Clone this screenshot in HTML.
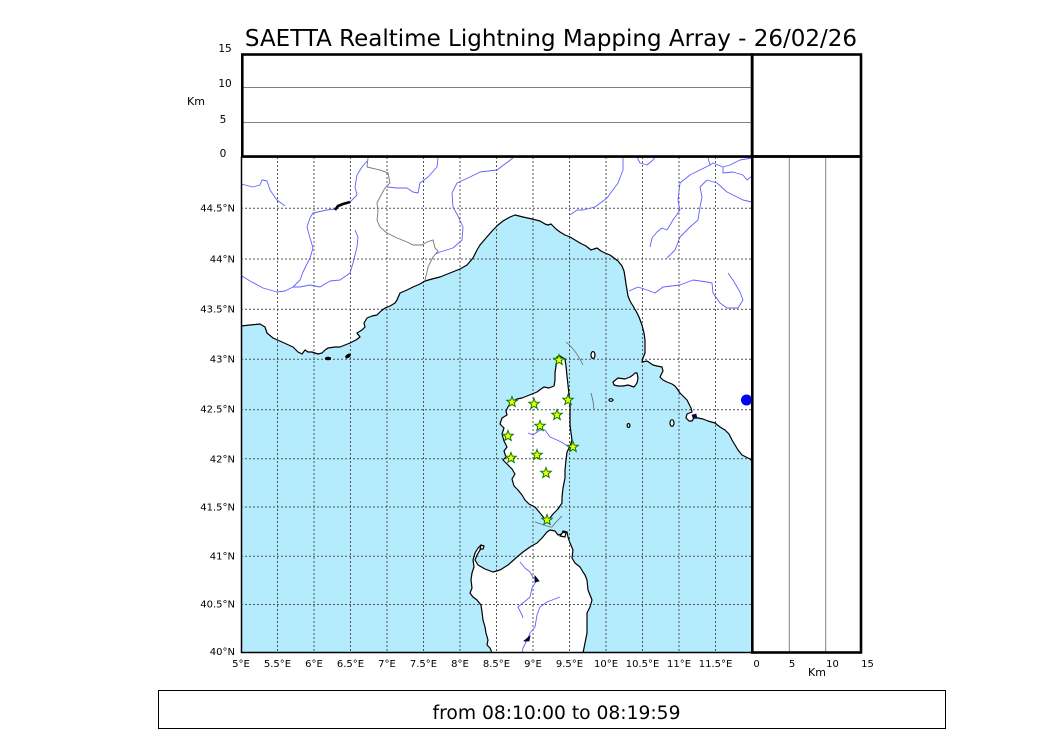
<!DOCTYPE html>
<html><head><meta charset="utf-8"><style>
html,body{margin:0;padding:0;background:#fff;}
svg{display:block;}
text{font-family:"DejaVu Sans","Liberation Sans",sans-serif;fill:#000;}
</style></head><body>
<svg width="1050" height="750" viewBox="0 0 1050 750" xmlns="http://www.w3.org/2000/svg">
<rect x="0" y="0" width="1050" height="750" fill="#fff"/>
<text x="551" y="46" font-size="23" text-anchor="middle">SAETTA Realtime Lightning Mapping Array - 26/02/26</text>

<!-- Map area -->
<rect x="241" y="157" width="511" height="496" fill="#fff"/>
<path d="M241,326 L250,325 L260,324 L265,327 L267,333 L273,338 L282,342 L293,347 L298,352 L302,354 L305,350 L308,352 L312,352 L318,354 L322,353 L325,350 L328,348 L335,347 L340,347 L350,343 L356,340 L360,337 L357,333 L362,330 L365,327 L364,323 L367,318 L372,316 L377,315 L381,311 L385,308 L390,306 L395,303 L397,300 L400,293 L407,290 L413,287 L420,284 L425,281 L432,279 L440,277 L450,273 L460,269 L467,265 L473,258 L477,250 L480,245 L486,238 L493,230 L498,225 L503,221 L510,217 L515,215 L523,217 L532,219 L540,221 L545,224 L548,225 L551,224 L556,229 L560,232 L565,235 L570,237 L575,240 L580,243 L586,246 L591,250 L594,249 L597,248 L601,251 L605,253 L610,255 L614,258 L618,261 L622,266 L624,271 L625,277 L626,284 L627,290 L628,296 L630,301 L633,306 L636,311 L639,317 L642,325 L644,333 L645,340 L645,347 L645,353 L643,358 L642,362 L647,361 L653,365 L657,366 L662,367 L663,371 L660,377 L663,380 L667,382 L672,384 L675,386 L678,390 L680,393 L683,396 L687,400 L689,404 L691,408 L692,412 L687,414 L686,418 L689,421 L692,421 L694,418 L698,418 L703,419 L708,421 L715,423 L720,427 L725,430 L729,434 L732,440 L735,445 L738,450 L742,455 L746,457 L750,459 L752,461 L752,653 L583,653 L585,643 L587,633 L587,620 L587,613 L590,607 L592,600 L590,595 L588,590 L587,580 L585,575 L583,572 L580,567 L575,563 L572,558 L573,550 L570,543 L568,537 L567,532 L563,531 L562,534 L558,535 L555,531 L550,530 L547,532 L542,538 L537,543 L530,547 L523,552 L517,557 L508,565 L500,570 L493,572 L485,569 L478,565 L475,560 L477,555 L480,550 L483,546 L481,545 L478,548 L475,553 L473,560 L474,567 L472,573 L471,580 L472,588 L470,593 L473,597 L477,600 L481,605 L482,612 L483,620 L485,627 L486,633 L488,640 L487,645 L490,648 L492,653 L241,653 Z" fill="#b4ecfe" stroke="none"/>

<!-- islands fill -->
<g fill="#fff" stroke="none">
<path d="M557,357 L560,356 L565,359 L566,366 L567,376 L568,385 L569,395 L570,405 L570,415 L570,425 L571,433 L572,440 L570,446 L567,452 L566,460 L565,470 L565,478 L563,488 L562,497 L562,503 L558,509 L553,514 L550,518 L547,521 L544,518 L540,513 L535,507 L529,504 L525,500 L522,495 L518,490 L514,486 L512,479 L515,474 L512,469 L507,464 L503,460 L506,457 L504,451 L507,447 L504,441 L502,434 L504,428 L500,424 L502,418 L507,415 L506,411 L509,405 L513,401 L517,399 L522,398 L527,396 L532,394 L537,392 L541,389 L544,387 L549,388 L554,386 L555,380 L555,373 L556,366 L557,360 Z"/>
<path d="M613,382 L618,378 L625,379 L630,377 L633,375 L635,373 L637,373 L638,378 L637,383 L634,387 L628,385 L623,386 L618,386 L614,385 Z"/>
</g>

<!-- grid -->
<g stroke="#555" stroke-width="1" stroke-dasharray="2,2" fill="none">
<path d="M277.5,157V653 M314,157V653 M350.5,157V653 M387,157V653 M423.5,157V653 M460,157V653 M496.5,157V653 M533,157V653 M569.5,157V653 M606,157V653 M642.5,157V653 M679,157V653 M715.5,157V653"/>
<path d="M241,208.3H752 M241,259H752 M241,309.3H752 M241,359.3H752 M241,409.7H752 M241,458.7H752 M241,507H752 M241,556.3H752 M241,604.5H752"/>
</g>

<!-- rivers -->
<g stroke="#6060ff" stroke-width="0.9" fill="none" stroke-linejoin="round">
<path d="M241,184 L253,187 L260,185 L262,180 L267,181 L270,190 L277,200 L285,206"/>
<path d="M367,161 L362,167 L357,175 L355,187 L357,195 L350,202 L343,204 L335,209 L327,210 L313,213 L310,218 L307,227 L310,238 L313,248 L310,258 L303,272 L300,280 L293,287 L285,291 L277,292 L263,288 L250,281 L242,276"/>
<path d="M355,230 L358,237 L357,247 L353,263 L350,273 L340,280 L330,281 L320,287 L310,285 L300,287 L293,287"/>
<path d="M438,158 L437,167 L428,177 L420,183 L418,193 L413,192 L407,188 L397,188 L387,187"/>
<path d="M513,158 L497,170 L480,172 L470,177 L457,183 L452,193 L453,207 L458,216 L463,227 L462,240 L453,248 L440,252 L436,254"/>
<path d="M623,158 L623,170 L618,183 L607,198 L595,207 L583,210 L577,210 L570,215"/>
<path d="M637,157 L640,163 L647,165 L653,160 L655,157"/>
<path d="M708,158 L710,165 L713,163 L723,167 L723,173 L733,172 L743,175 L747,180 L752,176"/>
<path d="M752,158 L740,160 L730,165 L723,167"/>
<path d="M710,165 L690,175 L680,183 L678,200 L680,210 L673,220 L667,230 L662,228 L657,232 L652,238 L650,247"/>
<path d="M707,180 L700,187 L702,197 L700,207 L698,220 L690,227 L680,237 L675,250 L667,258"/>
<path d="M707,180 L717,183 L727,192 L733,195 L743,200 L752,202"/>
<path d="M629,291 L638,287 L647,290 L655,293 L663,287 L680,285 L693,280 L707,282 L712,283 L713,293 L720,303 L727,308 L738,308 L743,300 L740,292 L733,280 L728,273"/>
<path d="M528,433 L533,435 L540,430 L545,430 L550,437 L557,440 L563,443 L570,448"/>
<path d="M520,562 L525,568 L530,572 L533,577 L537,580 L532,588 L530,597 L523,603 L518,607 L522,615 L523,618"/>
<path d="M560,597 L547,602 L540,607 L537,615 L535,627 L530,633 L527,640 L523,648 L522,653"/>
</g>

<!-- country borders -->
<g stroke="#777" stroke-width="0.9" fill="none">
<path d="M368,158 L367,167 L380,170 L388,173 L390,183 L385,188 L380,197 L377,203 L378,212 L377,220 L380,227 L387,233 L397,238 L407,242 L413,245 L422,245 L427,242 L433,240 L435,248 L438,251 L433,257 L428,267 L427,272 L425,280"/>
</g>
<!-- gray lines near Corsica -->
<g stroke="#666" stroke-width="0.8" fill="none">
<path d="M566,342 Q576,350 583,365"/>
<path d="M591,393 L593,401 L594,410"/>
<path d="M535,522 L550,527 L552,527 L557,521 L562,516"/>
</g>

<!-- coastlines -->
<g fill="none" stroke="#000" stroke-width="1.2" stroke-linejoin="round">
<path d="M241,326 L250,325 L260,324 L265,327 L267,333 L273,338 L282,342 L293,347 L298,352 L302,354 L305,350 L308,352 L312,352 L318,354 L322,353 L325,350 L328,348 L335,347 L340,347 L350,343 L356,340 L360,337 L357,333 L362,330 L365,327 L364,323 L367,318 L372,316 L377,315 L381,311 L385,308 L390,306 L395,303 L397,300 L400,293 L407,290 L413,287 L420,284 L425,281 L432,279 L440,277 L450,273 L460,269 L467,265 L473,258 L477,250 L480,245 L486,238 L493,230 L498,225 L503,221 L510,217 L515,215 L523,217 L532,219 L540,221 L545,224 L548,225 L551,224 L556,229 L560,232 L565,235 L570,237 L575,240 L580,243 L586,246 L591,250 L594,249 L597,248 L601,251 L605,253 L610,255 L614,258 L618,261 L622,266 L624,271 L625,277 L626,284 L627,290 L628,296 L630,301 L633,306 L636,311 L639,317 L642,325 L644,333 L645,340 L645,347 L645,353 L643,358 L642,362 L647,361 L653,365 L657,366 L662,367 L663,371 L660,377 L663,380 L667,382 L672,384 L675,386 L678,390 L680,393 L683,396 L687,400 L689,404 L691,408 L692,412 L687,414 L686,418 L689,421 L692,421 L694,418 L698,418 L703,419 L708,421 L715,423 L720,427 L725,430 L729,434 L732,440 L735,445 L738,450 L742,455 L746,457 L750,459 L752,461"/>
<path d="M583,653 L585,643 L587,633 L587,620 L587,613 L590,607 L592,600 L590,595 L588,590 L587,580 L585,575 L583,572 L580,567 L575,563 L572,558 L573,550 L570,543 L568,537 L567,532 L563,531 L562,534 L558,535 L555,531 L550,530 L547,532 L542,538 L537,543 L530,547 L523,552 L517,557 L508,565 L500,570 L493,572 L485,569 L478,565 L475,560 L477,555 L480,550 L483,546 L481,545 L478,548 L475,553 L473,560 L474,567 L472,573 L471,580 L472,588 L470,593 L473,597 L477,600 L481,605 L482,612 L483,620 L485,627 L486,633 L488,640 L487,645 L490,648 L492,653"/>
<path d="M557,357 L560,356 L565,359 L566,366 L567,376 L568,385 L569,395 L570,405 L570,415 L570,425 L571,433 L572,440 L570,446 L567,452 L566,460 L565,470 L565,478 L563,488 L562,497 L562,503 L558,509 L553,514 L550,518 L547,521 L544,518 L540,513 L535,507 L529,504 L525,500 L522,495 L518,490 L514,486 L512,479 L515,474 L512,469 L507,464 L503,460 L506,457 L504,451 L507,447 L504,441 L502,434 L504,428 L500,424 L502,418 L507,415 L506,411 L509,405 L513,401 L517,399 L522,398 L527,396 L532,394 L537,392 L541,389 L544,387 L549,388 L554,386 L555,380 L555,373 L556,366 L557,360 Z"/>
<path d="M613,382 L618,378 L625,379 L630,377 L633,375 L635,373 L637,373 L638,378 L637,383 L634,387 L628,385 L623,386 L618,386 L614,385 Z" fill="#fff"/>
<ellipse cx="593" cy="355" rx="2" ry="3.5" fill="#fff"/>
<ellipse cx="611" cy="400" rx="2" ry="1.3" fill="#fff"/>
<ellipse cx="628.5" cy="425.5" rx="1.4" ry="2" fill="#fff"/>
<ellipse cx="672" cy="423" rx="2" ry="3.3" fill="#fff"/>
<ellipse cx="328" cy="358.5" rx="2.5" ry="1.2" fill="#000"/>
<ellipse cx="348" cy="356" rx="2.5" ry="1.2" fill="#000" transform="rotate(-35 348 356)"/>
<path d="M560,536 L563,532 L566,533 L565,537 Z" fill="#fff"/>
<path d="M481,545 L484,546 L483,549 L480,549 Z" fill="#fff"/>
</g>

<!-- lakes -->
<path d="M335,210 L338,206 L343,204 L350,202" stroke="#000" stroke-width="2.6" fill="none"/>
<path d="M535,576 L539,581 L535,582 Z" fill="#000080" stroke="#000" stroke-width="0.8"/>
<path d="M524,641 L530,636 L529,641 Z" fill="#000080" stroke="#000" stroke-width="0.8"/>
<path d="M692,415 L696,414 L697,418 L693,418 Z" fill="#000080" stroke="#000" stroke-width="0.6"/>
<ellipse cx="746.5" cy="400" rx="5.5" ry="5.5" fill="#0000ff"/>

<!-- stars -->
<g fill="#ffff00" stroke="#008000" stroke-width="1">
<path d="M0,-5.5 L1.35,-1.86 L5.23,-1.7 L2.19,0.71 L3.23,4.45 L0,2.3 L-3.23,4.45 L-2.19,0.71 L-5.23,-1.7 L-1.35,-1.86 Z" transform="translate(559,360)"/>
<path d="M0,-5.5 L1.35,-1.86 L5.23,-1.7 L2.19,0.71 L3.23,4.45 L0,2.3 L-3.23,4.45 L-2.19,0.71 L-5.23,-1.7 L-1.35,-1.86 Z" transform="translate(568,400)"/>
<path d="M0,-5.5 L1.35,-1.86 L5.23,-1.7 L2.19,0.71 L3.23,4.45 L0,2.3 L-3.23,4.45 L-2.19,0.71 L-5.23,-1.7 L-1.35,-1.86 Z" transform="translate(512,402)"/>
<path d="M0,-5.5 L1.35,-1.86 L5.23,-1.7 L2.19,0.71 L3.23,4.45 L0,2.3 L-3.23,4.45 L-2.19,0.71 L-5.23,-1.7 L-1.35,-1.86 Z" transform="translate(534,404)"/>
<path d="M0,-5.5 L1.35,-1.86 L5.23,-1.7 L2.19,0.71 L3.23,4.45 L0,2.3 L-3.23,4.45 L-2.19,0.71 L-5.23,-1.7 L-1.35,-1.86 Z" transform="translate(557,415)"/>
<path d="M0,-5.5 L1.35,-1.86 L5.23,-1.7 L2.19,0.71 L3.23,4.45 L0,2.3 L-3.23,4.45 L-2.19,0.71 L-5.23,-1.7 L-1.35,-1.86 Z" transform="translate(540,426)"/>
<path d="M0,-5.5 L1.35,-1.86 L5.23,-1.7 L2.19,0.71 L3.23,4.45 L0,2.3 L-3.23,4.45 L-2.19,0.71 L-5.23,-1.7 L-1.35,-1.86 Z" transform="translate(508,436)"/>
<path d="M0,-5.5 L1.35,-1.86 L5.23,-1.7 L2.19,0.71 L3.23,4.45 L0,2.3 L-3.23,4.45 L-2.19,0.71 L-5.23,-1.7 L-1.35,-1.86 Z" transform="translate(573,447)"/>
<path d="M0,-5.5 L1.35,-1.86 L5.23,-1.7 L2.19,0.71 L3.23,4.45 L0,2.3 L-3.23,4.45 L-2.19,0.71 L-5.23,-1.7 L-1.35,-1.86 Z" transform="translate(537,455)"/>
<path d="M0,-5.5 L1.35,-1.86 L5.23,-1.7 L2.19,0.71 L3.23,4.45 L0,2.3 L-3.23,4.45 L-2.19,0.71 L-5.23,-1.7 L-1.35,-1.86 Z" transform="translate(511,458)"/>
<path d="M0,-5.5 L1.35,-1.86 L5.23,-1.7 L2.19,0.71 L3.23,4.45 L0,2.3 L-3.23,4.45 L-2.19,0.71 L-5.23,-1.7 L-1.35,-1.86 Z" transform="translate(546,473)"/>
<path d="M0,-5.5 L1.35,-1.86 L5.23,-1.7 L2.19,0.71 L3.23,4.45 L0,2.3 L-3.23,4.45 L-2.19,0.71 L-5.23,-1.7 L-1.35,-1.86 Z" transform="translate(547,520)"/>
</g>

<!-- map frame -->
<rect x="241.5" y="157" width="510.5" height="495.5" fill="none" stroke="#000" stroke-width="1.5"/>

<!-- top panel -->
<line x1="243" y1="87.5" x2="752" y2="87.5" stroke="#808080" stroke-width="1"/>
<line x1="243" y1="122.5" x2="752" y2="122.5" stroke="#808080" stroke-width="1"/>
<rect x="242.3" y="54.5" width="509.7" height="102" fill="none" stroke="#000" stroke-width="2.6"/>
<rect x="752.3" y="54.5" width="108.7" height="102" fill="none" stroke="#000" stroke-width="2.6"/>

<!-- right panel -->
<line x1="789.3" y1="157" x2="789.3" y2="652" stroke="#808080" stroke-width="1"/>
<line x1="825.7" y1="157" x2="825.7" y2="652" stroke="#808080" stroke-width="1"/>
<rect x="752.3" y="156.5" width="108.7" height="496" fill="none" stroke="#000" stroke-width="2.6"/>

<!-- top panel labels -->
<g font-size="10.5" text-anchor="middle">
<text x="225" y="51.8">15</text>
<text x="225" y="86.8">10</text>
<text x="223" y="122.8">5</text>
<text x="223" y="156.8">0</text>
<text x="196" y="105" font-size="11">Km</text>
</g>

<!-- lat labels -->
<g font-size="10" text-anchor="end">
<text x="235" y="211.6">44.5°N</text>
<text x="235" y="262.6">44°N</text>
<text x="235" y="312.6">43.5°N</text>
<text x="235" y="362.6">43°N</text>
<text x="235" y="412.6">42.5°N</text>
<text x="235" y="462.6">42°N</text>
<text x="235" y="510.6">41.5°N</text>
<text x="235" y="559.6">41°N</text>
<text x="235" y="607.6">40.5°N</text>
<text x="235" y="655.2">40°N</text>
</g>

<!-- lon labels -->
<g font-size="10" text-anchor="middle">
<text x="241" y="666.8">5°E</text>
<text x="277.5" y="666.8">5.5°E</text>
<text x="314" y="666.8">6°E</text>
<text x="350.5" y="666.8">6.5°E</text>
<text x="387" y="666.8">7°E</text>
<text x="423.5" y="666.8">7.5°E</text>
<text x="460" y="666.8">8°E</text>
<text x="496.5" y="666.8">8.5°E</text>
<text x="533" y="666.8">9°E</text>
<text x="569.5" y="666.8">9.5°E</text>
<text x="606" y="666.8">10°E</text>
<text x="642.5" y="666.8">10.5°E</text>
<text x="679" y="666.8">11°E</text>
<text x="715.5" y="666.8">11.5°E</text>
<text x="756.5" y="666.8">0</text>
<text x="792" y="666.8">5</text>
<text x="832.5" y="666.8">10</text>
<text x="867.5" y="666.8">15</text>
<text x="817" y="676.2" font-size="11">Km</text>
</g>

<!-- bottom box -->
<rect x="158.5" y="690.5" width="787" height="38" fill="none" stroke="#000" stroke-width="1"/>
<text x="556.5" y="719" font-size="18.7" text-anchor="middle">from 08:10:00 to 08:19:59</text>
</svg>
</body></html>
